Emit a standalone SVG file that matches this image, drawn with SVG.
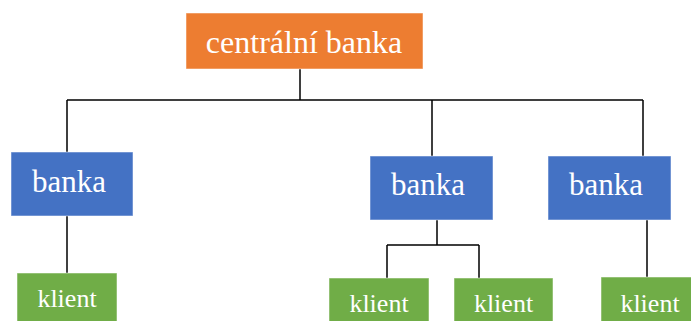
<svg xmlns="http://www.w3.org/2000/svg" width="691" height="321" viewBox="0 0 691 321">
<style>
.n{stroke:#ffffff;stroke-opacity:0.5;stroke-width:1}
.o{fill:#ED7D31}
.b{fill:#4472C4}
.g{fill:#70AD47}
.t{font-family:"Liberation Serif","Times New Roman",serif;fill:#ffffff;text-anchor:middle}
.c{fill:none;stroke:#000000;stroke-width:1.5}
</style>
<rect width="691" height="321" fill="#ffffff"/>
<g id="connectors">
<path class="c" d="M300 69 V100 M67 100 H643 M67 100 V152 M432 100 V156 M643 100 V156"/>
<path class="c" d="M67 216 V273"/>
<path class="c" d="M437 220 V245 M387 245 H479 M387 245 V278 M479 245 V278"/>
<path class="c" d="M647 220 V277"/>
</g>
<g id="central">
<rect class="n o" x="186" y="13" width="237" height="56"/>
<text class="t" x="304" y="53" font-size="32">centrální banka</text>
</g>
<g id="banka1">
<rect class="n b" x="11" y="152" width="122" height="64"/>
<text class="t" x="69" y="192" font-size="31">banka</text>
</g>
<g id="banka2">
<rect class="n b" x="370" y="156" width="123" height="64"/>
<text class="t" x="428" y="195" font-size="31">banka</text>
</g>
<g id="banka3">
<rect class="n b" x="548" y="156" width="123" height="64"/>
<text class="t" x="606" y="195" font-size="31">banka</text>
</g>
<g id="klient1">
<rect class="n g" x="17" y="273" width="100" height="50"/>
<text class="t" x="67" y="307" font-size="26">klient</text>
</g>
<g id="klient2">
<rect class="n g" x="329" y="278" width="100" height="45"/>
<text class="t" x="379" y="312" font-size="26">klient</text>
</g>
<g id="klient3">
<rect class="n g" x="454" y="278" width="99" height="45"/>
<text class="t" x="503.5" y="312" font-size="26">klient</text>
</g>
<g id="klient4">
<rect class="n g" x="601" y="277" width="92" height="46"/>
<text class="t" x="650" y="312" font-size="26">klient</text>
</g>
</svg>
